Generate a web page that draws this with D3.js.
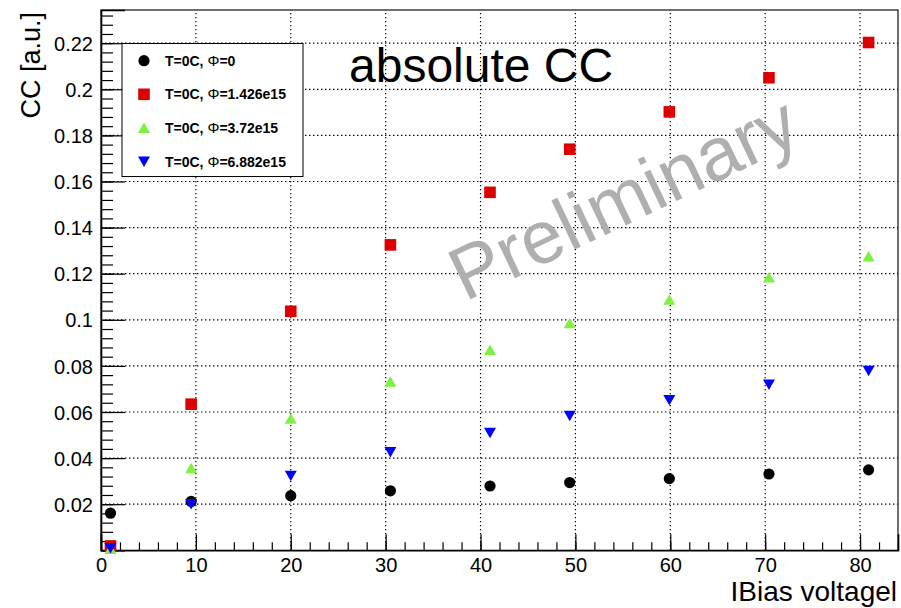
<!DOCTYPE html>
<html>
<head>
<meta charset="utf-8">
<script src="https://cdn.jsdelivr.net/npm/d3@7"></script>
<style>
  body { margin: 0; background: #fff; }
  svg text { font-family: "Liberation Sans", Arial, Helvetica, sans-serif; }
</style>
</head>
<body>
<script>
// bias voltage (x) for every series
const bias = [1, 9.5, 20, 30.5, 41, 49.4, 59.9, 70.4, 80.9]
// charge collection for each fluence
const ccPhi0 = [0.0161, 0.0212, 0.0237, 0.0258, 0.0279, 0.0294, 0.0311, 0.0331, 0.0349]
const ccPhi1426 = [0.0019, 0.0634, 0.1037, 0.1325, 0.1553, 0.1740, 0.1902, 0.2050, 0.2203]
const ccPhi372 = [0.0006, 0.0356, 0.0571, 0.0731, 0.0869, 0.0985, 0.1087, 0.1184, 0.1275]
const ccPhi6882 = [0.0010, 0.0201, 0.0323, 0.0427, 0.0510, 0.0584, 0.0652, 0.0719, 0.0779]
const legendNames = ['0', '1.426e15', '3.72e15', '6.882e15']
const xTicks = [0, 10, 20, 30, 40, 50, 60, 70, 80]
const yTicks = [0.02, 0.04, 0.06, 0.08, 0.1, 0.12, 0.14, 0.16, 0.18, 0.2, 0.22]

const W = 901, H = 608
const frame = {left: 101, right: 898, top: 10, bottom: 550.3}

const svg = d3.select('body').append('svg')
    .attr('width', W).attr('height', H)
svg.append('rect').attr('width', W).attr('height', H).attr('fill', '#fff')

const xScale = d3.scaleLinear().domain([0, 84]).range([frame.left, frame.right])
const yScale = d3.scaleLinear().domain([0, 0.2344]).range([frame.bottom, frame.top])

// dotted grid
const grid = svg.append('g').attr('stroke', '#000').attr('stroke-width', 1.2)
    .attr('stroke-dasharray', '1.4,2.6')
grid.selectAll('.gx').data(xTicks.filter(d => d > 0)).enter().append('line')
    .attr('x1', d => xScale(d)).attr('x2', d => xScale(d))
    .attr('y1', frame.bottom).attr('y2', frame.top)
grid.selectAll('.gy').data(yTicks).enter().append('line')
    .attr('y1', d => yScale(d)).attr('y2', d => yScale(d))
    .attr('x1', frame.left).attr('x2', frame.right)

// frame
svg.append('rect')
    .attr('x', frame.left).attr('y', frame.top)
    .attr('width', frame.right - frame.left).attr('height', frame.bottom - frame.top)
    .attr('fill', 'none').attr('stroke', '#111').attr('stroke-width', 1.2)

// x axis
let xAxis = d3.axisBottom(xScale).tickValues(xTicks).tickSize(-16).tickPadding(0)
let gx = svg.append('g').attr('transform', `translate(0,${frame.bottom})`).call(xAxis)
gx.select('.domain').attr('stroke-width', 1.6)
gx.selectAll('.tick line').attr('stroke-width', 1.2)
gx.selectAll('.tick text').attr('font-size', 20).attr('y', 22).attr('dy', 0).attr('fill', '#000')
let xMinor = d3.axisBottom(xScale).tickValues(d3.range(0, 84.1, 2)).tickSize(-8).tickFormat('')
svg.append('g').attr('transform', `translate(0,${frame.bottom})`).call(xMinor)
    .call(g => g.select('.domain').remove())
    .selectAll('line').attr('stroke-width', 1.2)

// y axis
let yAxis = d3.axisLeft(yScale).tickValues(yTicks).tickSize(-24).tickPadding(0)
    .tickFormat(d => d3.format('~g')(d))
let gy = svg.append('g').attr('transform', `translate(${frame.left},0)`).call(yAxis)
gy.select('.domain').attr('stroke-width', 1.6)
gy.selectAll('.tick line').attr('stroke-width', 1.2)
gy.selectAll('.tick text').attr('font-size', 20).attr('x', -8).attr('dy', '0.36em').attr('fill', '#000')
let yMinor = d3.axisLeft(yScale).tickValues(d3.range(0, 0.2341, 0.004)).tickSize(-12).tickFormat('')
svg.append('g').attr('transform', `translate(${frame.left},0)`).call(yMinor)
    .call(g => g.select('.domain').remove())
    .selectAll('line').attr('stroke-width', 1.2)

// axis titles
svg.append('text').attr('text-anchor', 'end').attr('font-size', 28)
    .attr('x', 897).attr('y', 601).text('IBias voltagel')
svg.append('text').attr('text-anchor', 'end').attr('font-size', 27)
    .attr('transform', 'translate(40,12) rotate(-90)').text('CC [a.u.]')

// watermark and title
svg.append('text').attr('font-size', 75).attr('fill', '#afafaf')
    .attr('transform', 'translate(465,302) rotate(-25.5)').text('Preliminary')
svg.append('text').attr('font-size', 48).attr('x', 349).attr('y', 82).text('absolute CC')

// markers
const shapes = {
    circle: (x, y) => `M${x - 5.6},${y}a5.6,5.6 0 1,0 11.2,0a5.6,5.6 0 1,0 -11.2,0Z`,
    square: (x, y) => `M${x - 5.8},${y - 5.8}h11.6v11.6h-11.6Z`,
    up: (x, y) => `M${x - 6},${y + 5}L${x + 6},${y + 5}L${x},${y - 5.5}Z`,
    down: (x, y) => `M${x - 6},${y - 5}L${x + 6},${y - 5}L${x},${y + 5.5}Z`
}
const series = [
    {vals: ccPhi0, color: '#000000', shape: 'circle'},
    {vals: ccPhi1426, color: '#dd0000', shape: 'square'},
    {vals: ccPhi372, color: '#80f040', shape: 'up'},
    {vals: ccPhi6882, color: '#0000ff', shape: 'down'}
]
const plotArea = svg.append('g')
series.forEach(s => {
    plotArea.append('g').selectAll('path')
        .data(bias.map((b, i) => [b, s.vals[i]]))
        .enter().append('path')
        .attr('d', d => shapes[s.shape](xScale(d[0]), yScale(d[1])))
        .attr('fill', s.color)
})

// legend
const leg = svg.append('g')
leg.append('rect').attr('x', 122).attr('y', 43.5).attr('width', 181).attr('height', 133)
    .attr('fill', '#fff').attr('stroke', '#000').attr('stroke-width', 1)
series.forEach((s, i) => {
    let cy = 60.7 + i * 33.6
    leg.append('path').attr('d', shapes[s.shape](144, cy)).attr('fill', s.color)
    let t = leg.append('text').attr('x', 165).attr('y', cy + 5).attr('font-size', 14)
        .attr('font-weight', 'bold')
    t.append('tspan').text('T=0C, ')
    t.append('tspan').attr('font-weight', 'normal').attr('font-size', 15).text('Φ')
    t.append('tspan').text('=' + legendNames[i])
})
</script>
</body>
</html>
